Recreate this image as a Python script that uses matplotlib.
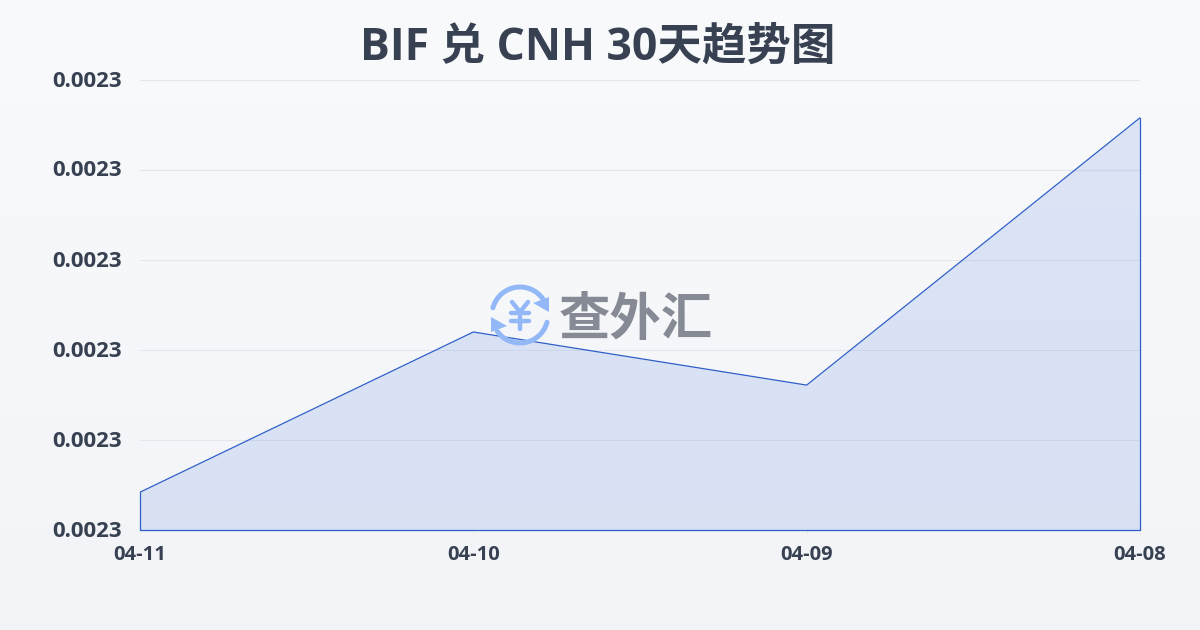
import matplotlib
matplotlib.use("Agg")
import matplotlib.pyplot as plt
import matplotlib.transforms as mtrans
import numpy as np
from matplotlib.patches import Arc, Polygon

plt.rcParams['font.family'] = ['Noto Sans CJK SC', 'DejaVu Sans']

# data (all y labels round to 0.0023)
dates = ["04-11", "04-10", "04-09", "04-08"]
rates = [0.00230084, 0.00230440, 0.00230322, 0.00230916]
y_ticks = [0.002300, 0.002302, 0.002304, 0.002306, 0.002308, 0.002310]

W, H = 1200, 630
TEXT = "#374151"
LINE = "#2f5fc8"
LATIN = ['Open Sans', 'Noto Sans CJK SC', 'DejaVu Sans']

fig = plt.figure(figsize=(W / 100, H / 100), dpi=100)

# page background, light vertical gradient
bg = fig.add_axes([0, 0, 1, 1], zorder=0)
grad = np.linspace(0, 1, 256).reshape(-1, 1)
top = np.array([0xf8, 0xfa, 0xfc]) / 255
bottom = np.array([0xf2, 0xf4, 0xf7]) / 255
bg.imshow(top + grad[..., None] * (bottom - top), aspect='auto', extent=[0, W, H, 0])
bg.set_xlim(0, W)
bg.set_ylim(H, 0)
bg.axis('off')

ax = fig.add_axes([140 / W, 1 - 530 / H, 1000 / W, 450 / H], zorder=1)
ax.patch.set_alpha(0)
x = np.arange(len(dates))
ax.fill_between(x, rates, y_ticks[0], color="#3b68dd", alpha=0.14, lw=0, zorder=2)
ax.plot(x, rates, color=LINE, lw=0.9, zorder=5)
# outline goes round the filled area
ax.plot([x[0], x[0], x[-1], x[-1]], [rates[0], y_ticks[0], y_ticks[0], rates[-1]],
        color=LINE, lw=0.9, zorder=5, clip_on=False)

ax.set_xlim(x[0], x[-1])
ax.set_ylim(y_ticks[0], y_ticks[-1])
ax.set_xticks(x, dates, family=LATIN, fontweight='bold', fontsize=14.5, color=TEXT)
ax.set_yticks(y_ticks, [f"{v:.4f}" for v in y_ticks], family=LATIN, fontweight='bold',
              fontsize=16, color=TEXT)
ax.grid(axis='y', color="#e3e6ea", lw=0.8, zorder=1)
ax.set_axisbelow(True)
for s in ax.spines.values():
    s.set_visible(False)
ax.tick_params(axis='y', length=0, pad=13)
ax.tick_params(axis='x', length=3, width=0.6, color="#ece8dc", pad=7.5)

# y labels sit slightly above their grid lines
nudge = mtrans.ScaledTranslation(0, 1.5 / 100, fig.dpi_scale_trans)
for lab in ax.get_yticklabels():
    lab.set_transform(lab.get_transform() + nudge)

# overlay in pixel coordinates for title and watermark
ov = fig.add_axes([0, 0, 1, 1], zorder=3)
ov.set_xlim(0, W)
ov.set_ylim(H, 0)
ov.axis('off')
ov.patch.set_alpha(0)
ov.text(598, 48, "BIF 兑 CNH 30天趋势图", ha='center', va='center', family=LATIN,
        fontsize=32, fontweight='bold', color=TEXT)

# watermark logo
LOGO = "#93b8f7"
cx, cy = 520, 315
ov.add_patch(Arc((cx, cy), 56, 56, theta1=195, theta2=325, color=LOGO, lw=3.6, capstyle='round'))
ov.add_patch(Arc((cx, cy), 56, 56, theta1=15, theta2=145, color=LOGO, lw=3.6, capstyle='round'))
ov.add_patch(Polygon([[549, 297], [549, 312], [533, 303]], color=LOGO, lw=0))
ov.add_patch(Polygon([[491, 317], [507, 326], [491, 332]], color=LOGO, lw=0))
# yen sign as rounded strokes
for xs, ys in [([512, 520], [302, 312]), ([528, 520], [302, 312]), ([511, 529], [313, 313]),
               ([511, 529], [321, 321]), ([520, 520], [312, 329])]:
    ov.plot(xs, ys, color=LOGO, lw=3.2, solid_capstyle='round')
ov.text(636, 319, "查外汇", ha='center', va='center', fontsize=37, fontweight='bold',
        color="#858a94")

fig.savefig("out.png", dpi=100)
